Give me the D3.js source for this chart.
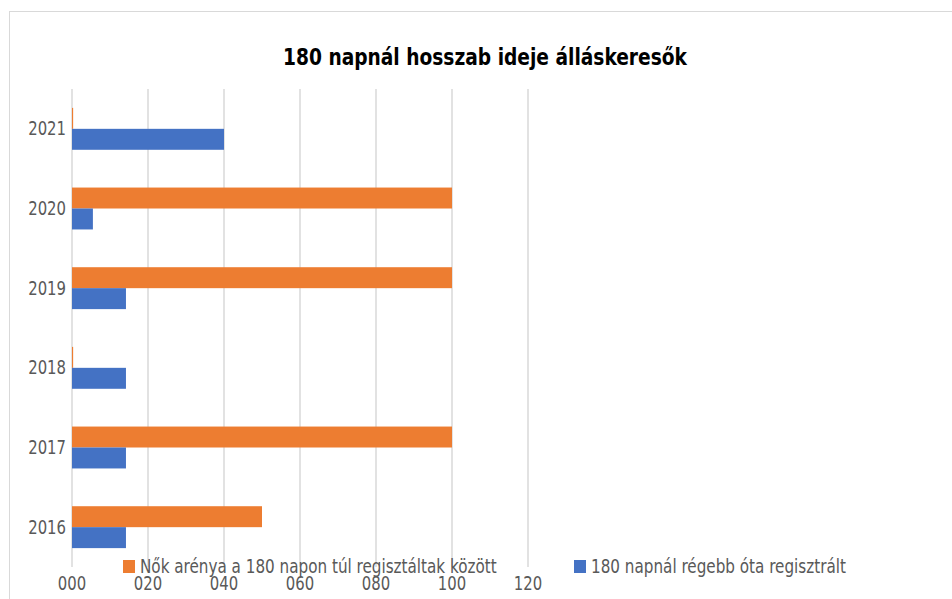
<!DOCTYPE html>
<html>
<head>
<meta charset="utf-8">
<script src="https://cdn.jsdelivr.net/npm/d3@7"></script>
<style>
  body { margin: 0; background: #fff; }
  text { font-family: "Liberation Sans Narrow", "DejaVu Sans Condensed", "Liberation Sans", sans-serif; }
</style>
</head>
<body>
<svg id="chart" width="952" height="599"></svg>
<script>
let years = ["2016", "2017", "2018", "2019", "2020", "2021"]
let nokAranya = [50, 100, 0.3, 100, 100, 0.3]
let regiszt = [14.2, 14.2, 14.2, 14.2, 5.5, 40]
let seriesNames = ["Nők arénya a 180 napon túl regisztáltak között", "180 napnál régebb óta regisztrált"]
let seriesColors = ["#ed7d31", "#4472c4"]
let xTicks = [0, 20, 40, 60, 80, 100, 120]

let svg = d3.select("#chart")
let textColor = "#595959"
let squeeze = 0.87 // fonts here are wider than the original narrow face

// chart frame (left + top edges visible)
svg.append("rect")
    .attr("x", 9.5).attr("y", 11.5)
    .attr("width", 1000).attr("height", 700)
    .attr("fill", "none").attr("stroke", "#d9d9d9").attr("stroke-width", 1)

svg.append("text")
    .attr("transform", "translate(485,65) scale(0.9,1)")
    .attr("text-anchor", "middle")
    .attr("font-size", 23).attr("font-weight", "bold")
    .attr("fill", "#000")
    .text("180 napnál hosszab ideje álláskeresők")

let xScale = d3.scaleLinear([0, 120], [72, 528])
let yScale = d3.scaleBand(years, [567, 89])
let sub = d3.scaleBand([0, 1], [yScale.bandwidth() * 0.237, yScale.bandwidth() * 0.763])

// gridlines
svg.append("g")
    .selectAll("line")
    .data(xTicks)
    .join("line")
    .attr("x1", d => xScale(d)).attr("x2", d => xScale(d))
    .attr("y1", 89).attr("y2", 567)
    .attr("stroke", "#d9d9d9").attr("stroke-width", 1.5)

let rows = years.map((y, i) => ({year: y, vals: [nokAranya[i], regiszt[i]]}))

let groups = svg.append("g")
    .selectAll("g")
    .data(rows)
    .join("g")
    .attr("transform", d => `translate(0,${yScale(d.year)})`)

groups.selectAll("rect")
    .data(d => d.vals)
    .join("rect")
    .attr("x", xScale(0))
    .attr("y", (d, i) => sub(i))
    .attr("width", d => xScale(d) - xScale(0))
    .attr("height", sub.bandwidth())
    .attr("fill", (d, i) => seriesColors[i])

// y axis labels
svg.append("g")
    .selectAll("text")
    .data(years)
    .join("text")
    .attr("transform", d => `translate(66,${yScale(d) + yScale.bandwidth() / 2}) scale(${squeeze},1)`)
    .attr("dy", "0.35em")
    .attr("text-anchor", "end")
    .attr("font-size", 19)
    .attr("fill", textColor)
    .text(d => d)

// x axis labels
svg.append("g")
    .selectAll("text")
    .data(xTicks)
    .join("text")
    .attr("transform", d => `translate(${xScale(d)},590) scale(${squeeze},1)`)
    .attr("text-anchor", "middle")
    .attr("font-size", 19)
    .attr("fill", textColor)
    .text(d => d3.format("03d")(d))

// legend
let legendX = [123, 574]
let leg = svg.append("g")
    .selectAll("g")
    .data(seriesNames)
    .join("g")
    .attr("transform", (d, i) => `translate(${legendX[i]},560)`)

leg.append("rect")
    .attr("width", 12).attr("height", 13)
    .attr("fill", (d, i) => seriesColors[i])

leg.append("text")
    .attr("transform", `translate(17,13) scale(0.89,1)`)
    .attr("font-size", 19)
    .attr("fill", textColor)
    .text(d => d)
</script>
</body>
</html>
